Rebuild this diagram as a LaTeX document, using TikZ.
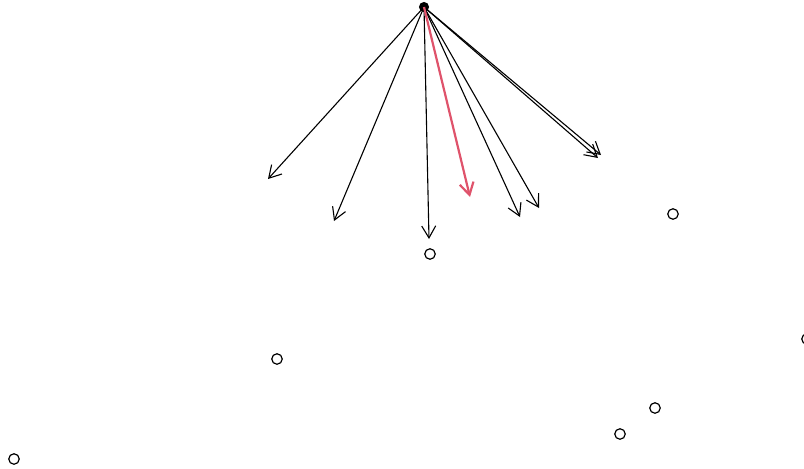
\documentclass[tikz,border=0pt]{standalone}
\usetikzlibrary{arrows.meta}
\definecolor{rred}{HTML}{DF536B}
\begin{document}
\begin{tikzpicture}[x=1pt,y=-1pt,
  pt/.style={circle,draw,line width=1.2pt,minimum size=10.5pt,inner sep=0pt},
  src/.style={circle,fill=black,draw,line width=1pt,minimum size=9pt,inner sep=0pt},
  arr/.style={line width=1.1pt,-{Straight Barb[length=12pt,width=14pt]}},
  redarr/.style={arr,line width=2.2pt,rred}]
\useasboundingbox (0,0) rectangle (804,469);
\node[src] (o) at (424,7) {};
\node[pt] (p1) at (430,254) {};
\node[pt] (p2) at (673,214) {};
\node[pt] (p3) at (277,359) {};
\node[pt] (p4) at (14,459) {};
\node[pt] (p5) at (655,408) {};
\node[pt] (p6) at (620,434) {};
\node[pt] (p7) at (807,339) {};
\coordinate (e1) at (268,179);
\coordinate (e2) at (334,221);
\coordinate (e3) at (429,239);
\coordinate (e4) at (470,197);
\coordinate (e5) at (520,217);
\coordinate (e6) at (539,208);
\coordinate (e7) at (601,155);
\coordinate (e8) at (598,158);
\foreach \e in {e1,e2,e3,e5,e6,e7,e8} \draw[arr] (o.center) -- (\e);
\draw[redarr] (o.center) -- (e4);
\end{tikzpicture}
\end{document}
